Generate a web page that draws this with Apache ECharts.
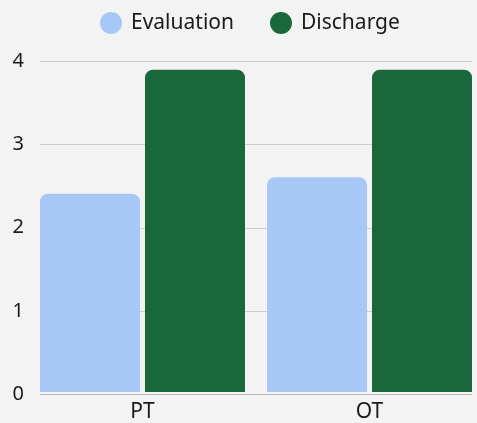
<!DOCTYPE html>
<html>
<head>
<meta charset="utf-8">
<script src="https://cdn.jsdelivr.net/npm/echarts@6/dist/echarts.min.js"></script>
<style>
    html, body { margin: 0; padding: 0; background: #f3f3f3; overflow: hidden; }
    #wrap { width: 477px; height: 423px; overflow: hidden; }
    #chart_container { width: 490px; height: 423px; }
</style>
</head>
<body>
<div id="wrap"><div id="chart_container"></div></div>
<script>
var categories     = ['PT', 'OT']
var seriesNames    = ['Evaluation', 'Discharge']
var evaluationData = [2.4, 2.6]
var dischargeData  = [3.9, 3.9]
var yTicks         = [0, 1, 2, 3, 4]

var colors = ['#a7c8f6', '#19673a']
var fontName = 'Noto Sans'

// 柱状图 (画布比可见区域宽一点，右边的柱子贴着边缘)
var chart = echarts.init(document.getElementById('chart_container'))
var option = {
    backgroundColor: '#f3f3f3',
    animation: false,
    legend: {
        data: seriesNames,
        left: 95, top: 7,
        icon: 'circle', itemWidth: 22, itemHeight: 22, itemGap: 36,
        textStyle: { fontFamily: fontName, fontSize: 21, color: '#1a1a1a', padding: [0, 0, 0, 4] }
    },
    grid: [
        // 坐标轴与网格线
        { left: 40, right: 18, top: 61.5, bottom: 29 },
        // 柱子
        { left: 29, right: 7, top: 61.5, bottom: 29 }
    ],
    xAxis: [
        {
            type: 'value', gridIndex: 0, min: 0, max: 1,
            axisLine: { show: true, lineStyle: { color: '#b8b8b8', width: 1 } },
            axisTick: { show: false }, axisLabel: { show: false }, splitLine: { show: false }
        },
        {
            type: 'category', gridIndex: 1, data: categories,
            axisLine: { show: false }, axisTick: { show: false },
            axisLabel: { fontFamily: fontName, fontSize: 21, color: '#1a1a1a', margin: 10 }
        }
    ],
    yAxis: [
        {
            type: 'value', gridIndex: 0, min: yTicks[0], max: yTicks[yTicks.length - 1], interval: 1,
            axisLine: { show: false }, axisTick: { show: false },
            axisLabel: { fontFamily: fontName, fontSize: 20, color: '#1a1a1a', margin: 16 },
            splitLine: { show: true, lineStyle: { color: '#cccccc', width: 1 } }
        },
        {
            type: 'value', gridIndex: 1, min: yTicks[0], max: yTicks[yTicks.length - 1],
            show: false, splitLine: { show: false }
        }
    ],
    series: [
        {
            name: seriesNames[0], type: 'bar', xAxisIndex: 1, yAxisIndex: 1,
            data: evaluationData, barWidth: 100, barGap: '5%',
            itemStyle: { color: colors[0], borderRadius: [8, 8, 0, 0] }
        },
        {
            name: seriesNames[1], type: 'bar', xAxisIndex: 1, yAxisIndex: 1,
            data: dischargeData, barWidth: 100, barGap: '5%',
            itemStyle: { color: colors[1], borderRadius: [8, 8, 0, 0] }
        }
    ]
}
chart.setOption(option)
</script>
</body>
</html>
